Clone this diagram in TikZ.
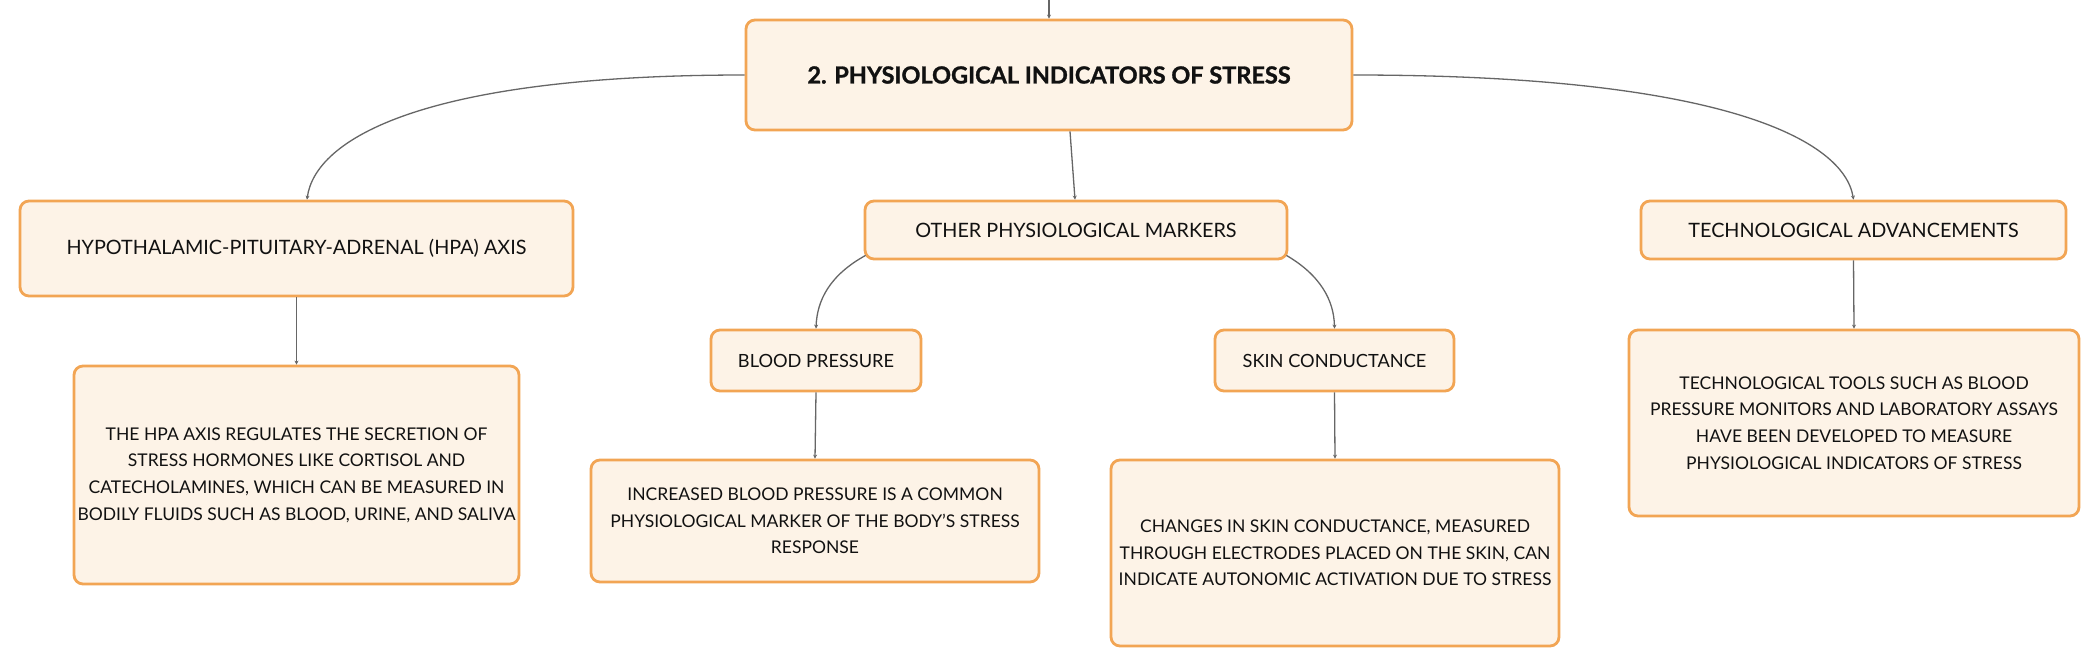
\documentclass[tikz,border=0pt]{standalone}
\usepackage{fontspec}
\setmainfont{Lato}
\newfontfamily\titlefont{Lato}[BoldFeatures={FakeBold=1.2}]
\usetikzlibrary{arrows.meta}
\definecolor{boxfill}{HTML}{FDF3E7}
\definecolor{boxline}{HTML}{F2A554}
\definecolor{conn}{HTML}{666666}
\definecolor{txt}{HTML}{111111}
\tikzset{
  card/.style={draw=boxline, fill=boxfill, line width=2.8pt, rounded corners=9pt,
    inner sep=0pt, text=txt, align=center, font=\fontsize{17.5}{26.7}\selectfont},
  headcard/.style={card, font=\fontsize{19.8}{26}\selectfont},
  subcard/.style={card, font=\fontsize{18.2}{26}\selectfont},
  titlecard/.style={card, font=\fontsize{23.5}{28}\selectfont\titlefont\bfseries},
  link/.style={draw=conn, line width=1.3pt, -{Stealth[length=4pt,width=4pt]}},
}
\begin{document}
\begin{tikzpicture}[x=1pt,y=-1pt]
\useasboundingbox[fill=white] (0,0) rectangle (2099,667);
\node[titlecard, minimum width=606pt, minimum height=110pt] (main) at (1049,75) {2. PHYSIOLOGICAL INDICATORS OF STRESS};
\node[headcard, minimum width=553pt, minimum height=95pt] (hpa) at (296.5,248.5) {HYPOTHALAMIC-PITUITARY-ADRENAL (HPA) AXIS};
\node[card, minimum width=445pt, minimum height=218pt] (hpadesc) at (296.5,475) {THE HPA AXIS REGULATES THE SECRETION OF\\STRESS HORMONES LIKE CORTISOL AND\\CATECHOLAMINES, WHICH CAN BE MEASURED IN\\BODILY FLUIDS SUCH AS BLOOD, URINE, AND SALIVA};
\node[headcard, minimum width=422pt, minimum height=58pt] (other) at (1076,230) {OTHER PHYSIOLOGICAL MARKERS};
\node[subcard, minimum width=210pt, minimum height=61pt] (bp) at (816,360.5) {BLOOD PRESSURE};
\node[card, minimum width=448pt, minimum height=122pt] (bpdesc) at (815,521) {INCREASED BLOOD PRESSURE IS A COMMON\\PHYSIOLOGICAL MARKER OF THE BODY'S STRESS\\RESPONSE};
\node[subcard, minimum width=239pt, minimum height=61pt] (sc) at (1334.5,360.5) {SKIN CONDUCTANCE};
\node[card, minimum width=448pt, minimum height=186pt] (scdesc) at (1335,553) {CHANGES IN SKIN CONDUCTANCE, MEASURED\\THROUGH ELECTRODES PLACED ON THE SKIN, CAN\\INDICATE AUTONOMIC ACTIVATION DUE TO STRESS};
\node[headcard, minimum width=425pt, minimum height=58pt] (tech) at (1853.5,230) {TECHNOLOGICAL ADVANCEMENTS};
\node[card, minimum width=450pt, minimum height=186pt] (techdesc) at (1854,423) {TECHNOLOGICAL TOOLS SUCH AS BLOOD\\PRESSURE MONITORS AND LABORATORY ASSAYS\\HAVE BEEN DEVELOPED TO MEASURE\\PHYSIOLOGICAL INDICATORS OF STRESS};
\coordinate (topend) at (1049,0);
\draw[link] (topend) -- (main.north);
\draw[link] ([xshift=21pt]main.south) -- ([xshift=-1pt]other.north);
\draw[link] (main.west) .. controls (420,75) and (315,140) .. ([xshift=10.5pt]hpa.north);
\draw[link] (main.east) .. controls (1723,75) and (1844,140) .. (tech.north);
\draw[link] ([xshift=2pt,yshift=5pt]other.south west) .. controls (830,275) and (817,300) .. (bp.north);
\draw[link] ([xshift=-2pt,yshift=5pt]other.south east) .. controls (1320,275) and (1334,300) .. (sc.north);
\draw[link] (hpa.south) -- (hpadesc.north);
\draw[link] (bp.south) -- (bpdesc.north);
\draw[link] (sc.south) -- (scdesc.north);
\draw[link] (tech.south) -- (techdesc.north);
\end{tikzpicture}
\end{document}
